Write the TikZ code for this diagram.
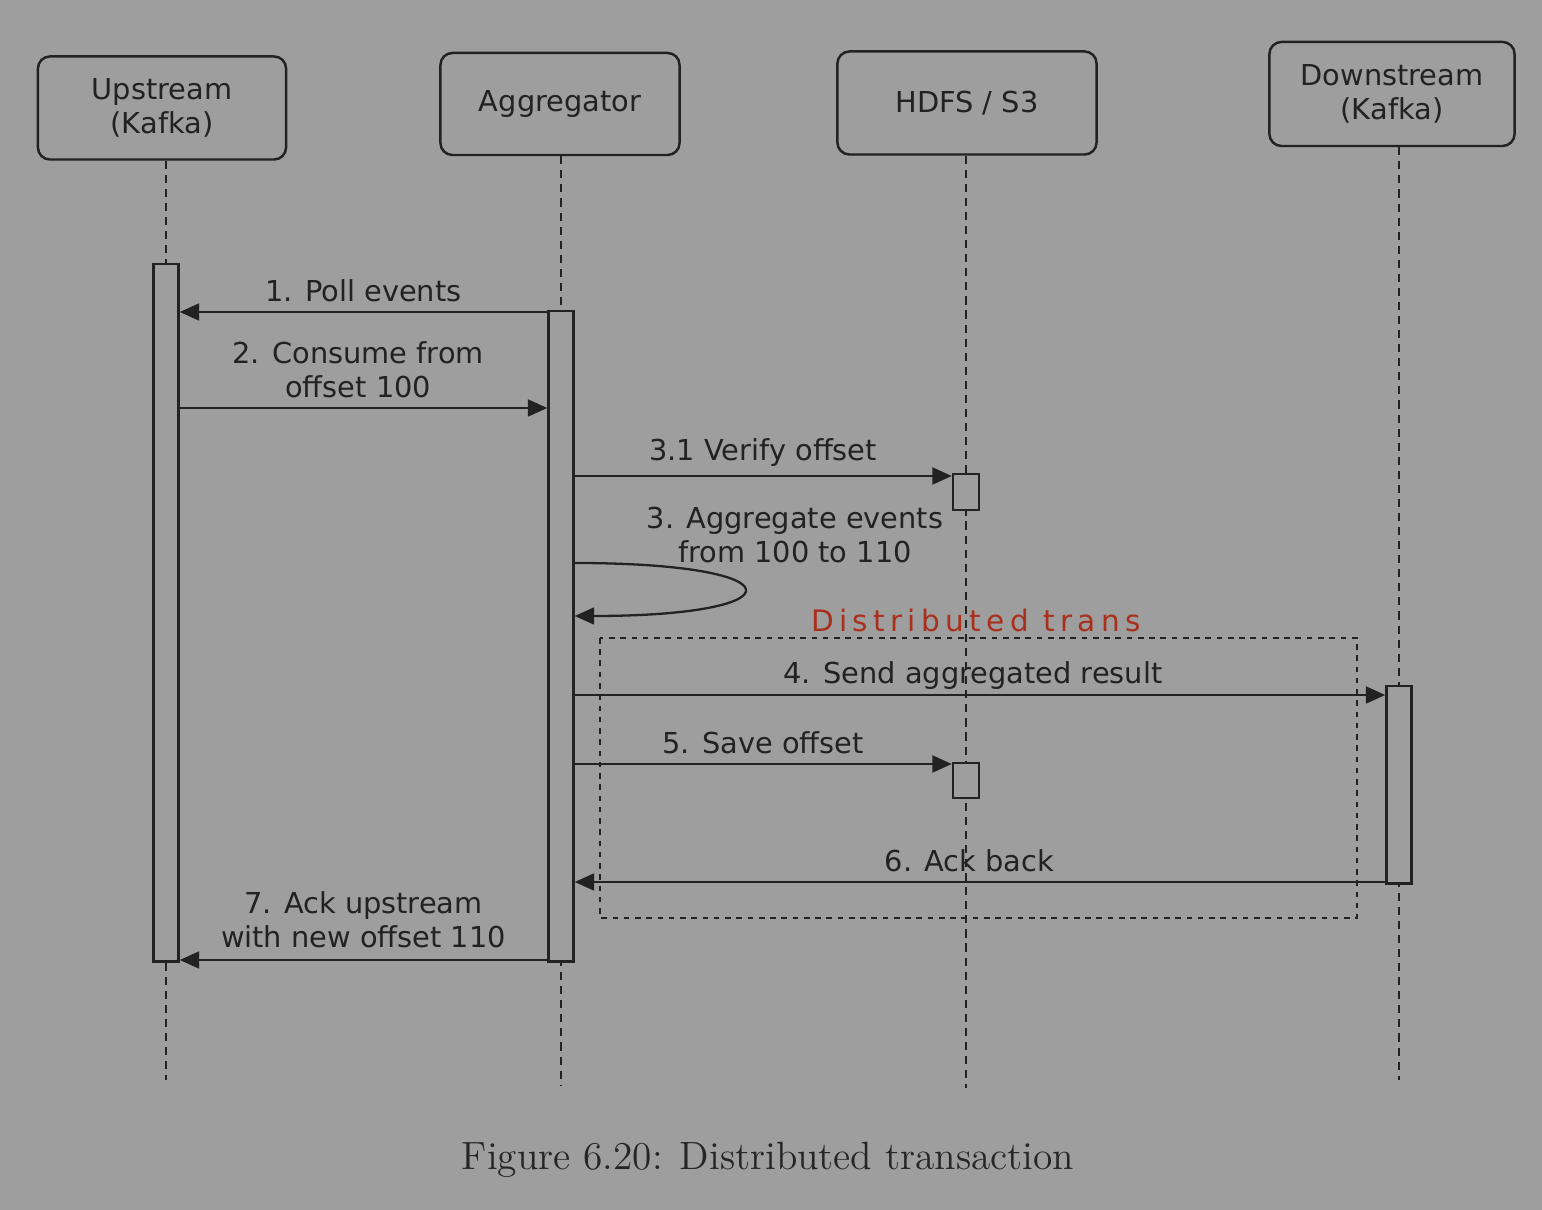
\documentclass[tikz,border=0pt]{standalone}
\usepackage{fontspec}
\newfontfamily\diagfont{DejaVu Sans}
\newfontfamily\notefont[LetterSpace=18]{DejaVu Sans}
\usetikzlibrary{arrows.meta}
\definecolor{pagegray}{HTML}{9E9E9E}
\definecolor{inkgray}{HTML}{222222}
\definecolor{notered}{HTML}{A8301C}
\tikzset{
  actor/.style={draw=inkgray, line width=0.7pt, rounded corners=0.12cm, fill=pagegray,
    text=inkgray, align=center, inner sep=0pt, font=\diagfont\fontsize{8.2}{9.8}\selectfont},
  bar/.style={draw=inkgray, line width=0.7pt, fill=pagegray, inner sep=0pt,
    minimum width=0.25cm, anchor=north},
  life/.style={draw=inkgray, line width=0.7pt, dash pattern=on 2.3pt off 1.7pt},
  msg/.style={draw=inkgray, line width=0.65pt, -{Triangle[length=5.5pt,width=4.8pt]}},
  lbl/.style={text=inkgray, align=center, inner sep=0pt, font=\diagfont\fontsize{8.2}{9.8}\selectfont},
  txbox/.style={draw=inkgray, line width=0.6pt, dash pattern=on 1.6pt off 1.6pt},
}

\begin{document}
\begin{tikzpicture}[x=0.01cm, y=-0.01cm]
		%%%%% PAGE %%%%%
		\fill[pagegray] (0,0) rectangle (1542,1210);
		\useasboundingbox (0,0) rectangle (1542,1210);
		
		%%%%% ACTORS %%%%%
		\node[actor, minimum width=2.48cm, minimum height=1.03cm] (up) at (162,108) {Upstream\\(Kafka)};
		\node[actor, minimum width=2.39cm, minimum height=1.02cm] (agg) at (560,104) {Aggregator};
		\node[actor, minimum width=2.59cm, minimum height=1.03cm] (hdfs) at (967,103) {HDFS / S3};
		\node[actor, minimum width=2.45cm, minimum height=1.04cm] (down) at (1392,94) {Downstream\\(Kafka)};
		
		%%%%% LIFELINES %%%%%
		\coordinate (upend) at (166,1080);
		\coordinate (aggend) at (561,1085);
		\coordinate (hdfsend) at (966,1088);
		\coordinate (downend) at (1399,1080);
		\draw[life] (upend |- up.south) -- (upend);
		\draw[life] (aggend |- agg.south) -- (aggend);
		\draw[life] (hdfsend |- hdfs.south) -- (hdfsend);
		\draw[life] (downend |- down.south) -- (downend);
		
		%%%%% ACTIVATIONS %%%%%
		\node[bar, minimum height=6.97cm] (upbar) at (166,263) {};
		\node[bar, minimum height=6.50cm] (aggbar) at (561,310) {};
		\node[bar, minimum width=0.26cm, minimum height=0.36cm] (vbox) at (966,473) {};
		\node[bar, minimum width=0.26cm, minimum height=0.35cm] (sbox) at (966,762) {};
		\node[bar, minimum height=1.97cm] (downbar) at (1399,685) {};
		
		%%%%% TRANSACTION FRAME %%%%%
		\draw[txbox] (600,638) rectangle (1357,918);
		\node[text=notered, inner sep=0pt, font=\notefont\fontsize{8.4}{10}\selectfont] (txlabel) at (976,620) {Distributed trans};
		
		%%%%% MESSAGES %%%%%
		\coordinate (m1) at (0,312);
		\coordinate (m2) at (0,408);
		\coordinate (m31) at (0,476);
		\coordinate (m3a) at (0,563);
		\coordinate (m3b) at (0,616);
		\coordinate (m4) at (0,695);
		\coordinate (m5) at (0,764);
		\coordinate (m6) at (0,882);
		\coordinate (m7) at (0,960);
		
		\draw[msg] (aggbar.west |- m1) -- (upbar.east |- m1)
			node[lbl, midway, above=2.5pt] (l1) {1. Poll events};
		\draw[msg] (upbar.east |- m2) -- (aggbar.west |- m2)
			node[lbl, midway, above=2.5pt, xshift=-1.5pt] (l2) {2. Consume from\\offset 100};
		\draw[msg] (aggbar.east |- m31) -- (vbox.west |- m31)
			node[lbl, midway, above=2.5pt] (l31) {3.1 Verify offset};
		\draw[msg] (aggbar.east |- m3a) .. controls (800,563) and (800,616) .. (aggbar.east |- m3b);
		\node[lbl] (l3) at (795,535) {3. Aggregate events\\from 100 to 110};
		\draw[msg] (aggbar.east |- m4) -- (downbar.west |- m4)
			node[lbl, midway, above=1.2pt, xshift=-2pt] (l4) {4. Send aggregated result};
		\draw[msg] (aggbar.east |- m5) -- (sbox.west |- m5)
			node[lbl, midway, above=2.5pt] (l5) {5. Save offset};
		\draw[msg] (downbar.west |- m6) -- (aggbar.east |- m6)
			node[lbl, midway, above=2.5pt, xshift=-3pt] (l6) {6. Ack back};
		\draw[msg] (aggbar.west |- m7) -- (upbar.east |- m7)
			node[lbl, midway, above=3pt] (l7) {7. Ack upstream\\with new offset 110};
		
		%%%%% CAPTION %%%%%
		\node[text=black!85, inner sep=0pt, font=\fontsize{11.2}{13}\selectfont] (caption) at (768,1160) {Figure 6.20: Distributed transaction};
	\end{tikzpicture}
\end{document}
